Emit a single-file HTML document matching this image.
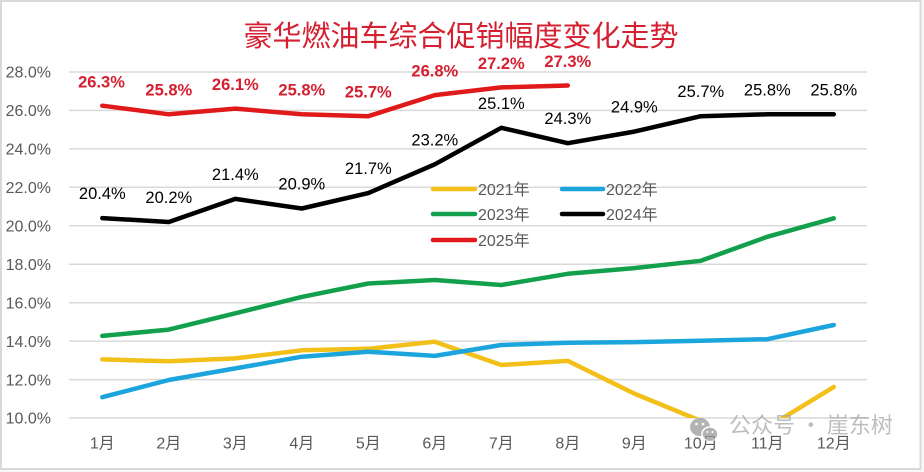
<!DOCTYPE html>
<html>
<head>
<meta charset="utf-8">
<style>
html,body{margin:0;padding:0;background:#fff;}
svg{display:block;}
text{font-family:"Liberation Sans","Noto Sans CJK SC",sans-serif;}
</style>
</head>
<body>
<svg width="924" height="472" viewBox="0 0 924 472" xmlns="http://www.w3.org/2000/svg">
<rect x="0" y="0" width="924" height="472" fill="#f7f7f7"/>
<rect x="1" y="1" width="919.5" height="468" fill="#ffffff" stroke="#d9d9d9" stroke-width="2"/>

<!-- title -->
<text x="461" y="46" font-size="29" fill="#d42030" text-anchor="middle" style="font-family:'Noto Sans CJK SC',sans-serif;">豪华燃油车综合促销幅度变化走势</text>

<!-- gridlines -->
<g stroke="#d9d9d9" stroke-width="1.5">
<line x1="69" y1="72" x2="867" y2="72"/>
<line x1="69" y1="110.4" x2="867" y2="110.4"/>
<line x1="69" y1="148.9" x2="867" y2="148.9"/>
<line x1="69" y1="187.3" x2="867" y2="187.3"/>
<line x1="69" y1="225.8" x2="867" y2="225.8"/>
<line x1="69" y1="264.2" x2="867" y2="264.2"/>
<line x1="69" y1="302.7" x2="867" y2="302.7"/>
<line x1="69" y1="341.1" x2="867" y2="341.1"/>
<line x1="69" y1="379.6" x2="867" y2="379.6"/>
<line x1="69" y1="418" x2="867" y2="418"/>
</g>

<!-- y labels -->
<g font-size="16" fill="#595959" text-anchor="end">
<text x="51" y="77.7">28.0%</text>
<text x="51" y="116.1">26.0%</text>
<text x="51" y="154.6">24.0%</text>
<text x="51" y="193">22.0%</text>
<text x="51" y="231.5">20.0%</text>
<text x="51" y="269.9">18.0%</text>
<text x="51" y="308.4">16.0%</text>
<text x="51" y="346.8">14.0%</text>
<text x="51" y="385.3">12.0%</text>
<text x="51" y="423.7">10.0%</text>
</g>

<!-- x labels -->
<g font-size="16" fill="#595959" text-anchor="middle">
<text x="102.3" y="448.5">1月</text>
<text x="168.8" y="448.5">2月</text>
<text x="235.3" y="448.5">3月</text>
<text x="301.8" y="448.5">4月</text>
<text x="368.3" y="448.5">5月</text>
<text x="434.8" y="448.5">6月</text>
<text x="501.3" y="448.5">7月</text>
<text x="567.8" y="448.5">8月</text>
<text x="634.3" y="448.5">9月</text>
<text x="700.8" y="448.5">10月</text>
<text x="767.3" y="448.5">11月</text>
<text x="833.8" y="448.5">12月</text>
</g>

<defs>
<clipPath id="plot"><rect x="60" y="60" width="820" height="358"/></clipPath>
</defs>

<g fill="none" stroke-width="4.5" stroke-linejoin="round" stroke-linecap="round" clip-path="url(#plot)">
<!-- 2021 yellow -->
<polyline stroke="#f2c018" points="102.3,359.4 168.8,361.3 235.3,358.4 301.8,350.3 368.3,348.8 434.8,341.7 501.3,365 567.8,360.9 634.3,393.6 700.8,420.9 767.3,427.6 833.8,386.9"/>
<!-- 2022 blue -->
<polyline stroke="#1ba5dc" points="102.3,397.2 168.8,380 235.3,368.4 301.8,356.7 368.3,351.7 434.8,355.9 501.3,345 567.8,342.7 634.3,342.1 700.8,340.7 767.3,339.2 833.8,325"/>
<!-- 2023 green -->
<polyline stroke="#13a04c" points="102.3,335.9 168.8,329.6 235.3,313.3 301.8,296.9 368.3,283.5 434.8,280 501.3,285 567.8,273.8 634.3,268.1 700.8,260.8 767.3,236.8 833.8,218.3"/>
<!-- 2024 black -->
<polyline stroke="#000000" points="102.3,218.1 168.8,222 235.3,198.9 301.8,208.5 368.3,193.1 434.8,164.3 501.3,127.8 567.8,143.2 634.3,131.6 700.8,116.2 767.3,114.3 833.8,114.3"/>
<!-- 2025 red -->
<polyline stroke="#e01a1a" points="102.3,105.7 168.8,114.3 235.3,108.6 301.8,114.3 368.3,116.2 434.8,95.1 501.3,87.4 567.8,85.5"/>
</g>

<!-- black labels -->
<g font-size="16.5" fill="#000" text-anchor="middle">
<text x="102.3" y="199.1">20.4%</text>
<text x="168.8" y="203">20.2%</text>
<text x="235.3" y="179.9">21.4%</text>
<text x="301.8" y="189.5">20.9%</text>
<text x="368.3" y="174.1">21.7%</text>
<text x="434.8" y="145.3">23.2%</text>
<text x="501.3" y="108.8">25.1%</text>
<text x="567.8" y="124.2">24.3%</text>
<text x="634.3" y="112.6">24.9%</text>
<text x="700.8" y="97.2">25.7%</text>
<text x="767.3" y="95.3">25.8%</text>
<text x="833.8" y="95.3">25.8%</text>
</g>

<!-- red labels -->
<g font-size="16.5" font-weight="bold" fill="#d42030" text-anchor="middle">
<text x="101.5" y="87.5">26.3%</text>
<text x="168.8" y="95.5">25.8%</text>
<text x="235.3" y="90">26.1%</text>
<text x="301.8" y="95.5">25.8%</text>
<text x="368.3" y="97.5">25.7%</text>
<text x="434.8" y="76.5">26.8%</text>
<text x="501.3" y="69">27.2%</text>
<text x="567.8" y="67">27.3%</text>
</g>

<!-- legend -->
<g stroke-width="4.5" stroke-linecap="round">
<line x1="433" y1="189" x2="475" y2="189" stroke="#f2c018"/>
<line x1="562" y1="189" x2="603" y2="189" stroke="#1ba5dc"/>
<line x1="433" y1="214" x2="475" y2="214" stroke="#13a04c"/>
<line x1="562" y1="214" x2="603" y2="214" stroke="#000000"/>
<line x1="433" y1="240" x2="475" y2="240" stroke="#e01a1a"/>
</g>
<g font-size="16" fill="#595959">
<text x="478" y="195">2021年</text>
<text x="606" y="195">2022年</text>
<text x="478" y="220">2023年</text>
<text x="606" y="220">2024年</text>
<text x="478" y="246">2025年</text>
</g>

<!-- watermark -->
<g opacity="0.75">
<ellipse cx="700" cy="427" rx="10" ry="9" fill="#9a9a9a"/>
<ellipse cx="710" cy="434" rx="8" ry="7" fill="#9a9a9a" stroke="#ffffff" stroke-width="1.5"/>
<circle cx="696.5" cy="424" r="1.3" fill="#fff"/>
<circle cx="703" cy="424" r="1.3" fill="#fff"/>
<circle cx="707.5" cy="432" r="1" fill="#fff"/>
<circle cx="712.5" cy="432" r="1" fill="#fff"/>
<text x="729" y="433" font-size="22" fill="#a8a8a8" style="font-family:'Noto Sans CJK SC',sans-serif;">公众号 · 崖东树</text>
</g>
</svg>
</body>
</html>
